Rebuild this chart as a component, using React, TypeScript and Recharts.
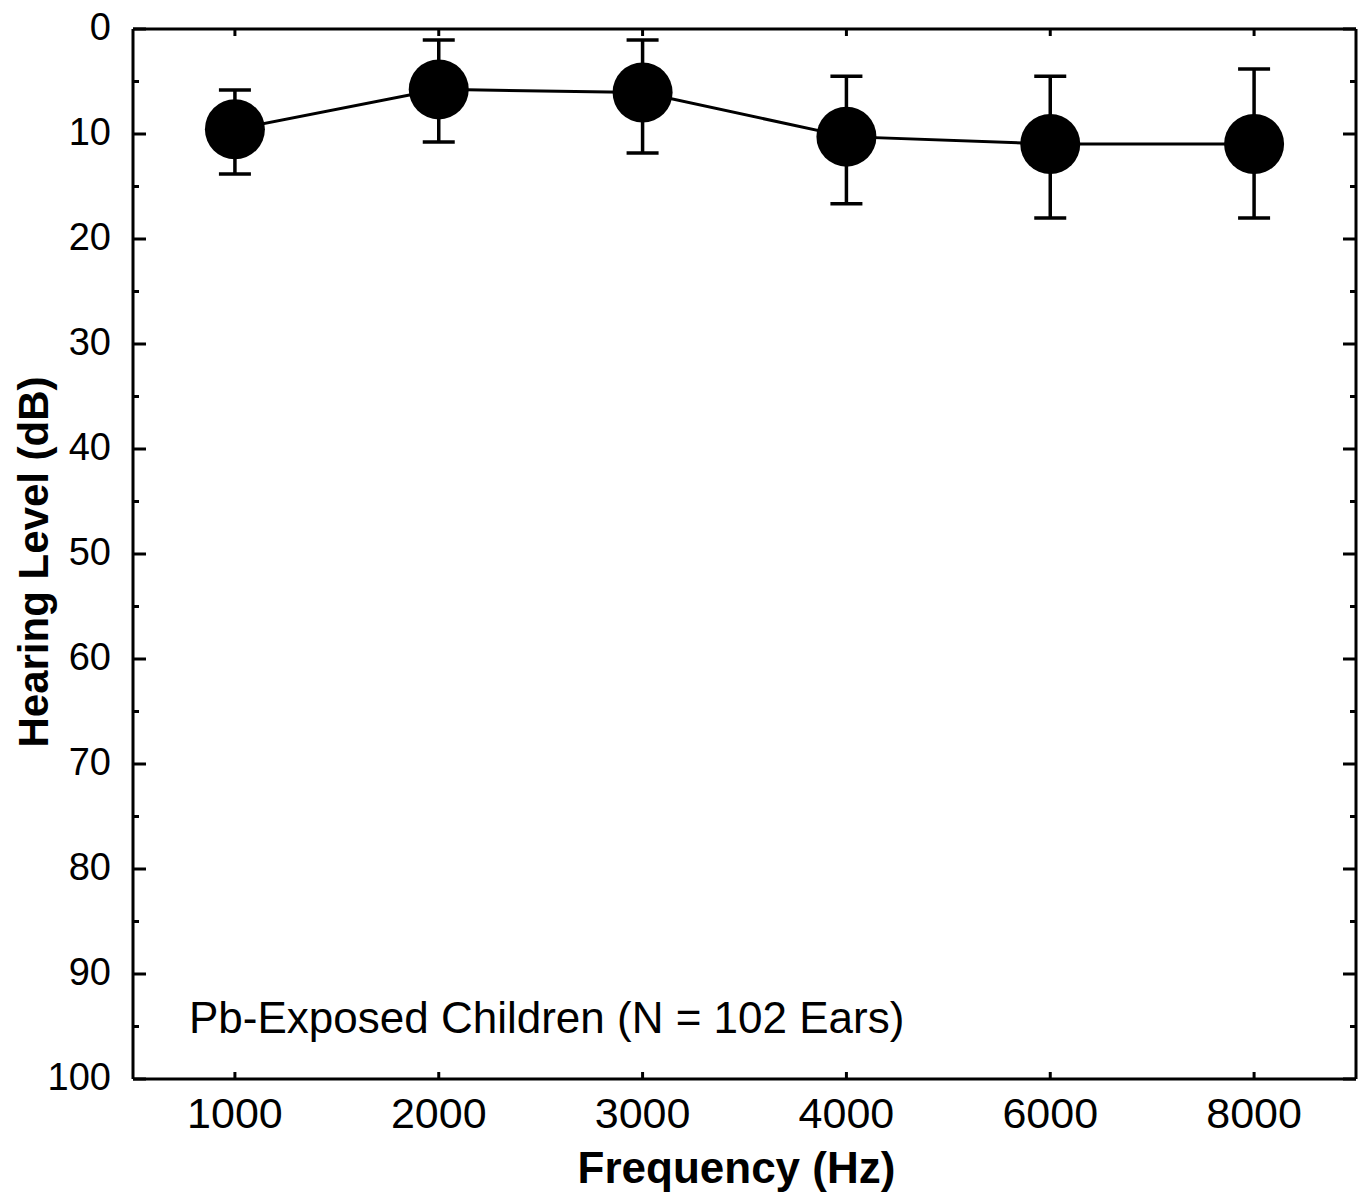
import { ErrorBar, Label, Line, LineChart, XAxis, YAxis } from 'recharts';

const frequencies = ['1000', '2000', '3000', '4000', '6000', '8000'];
const meanLevels = [9.55, 5.75, 6.05, 10.25, 10.95, 10.95];
// whisker ends, in dB (the axis runs downward, so the "top" whisker is the smaller value)
const whiskerTop = [5.8, 1.05, 1.05, 4.5, 4.5, 3.8];
const whiskerBottom = [13.8, 10.75, 11.8, 16.65, 18.0, 18.0];
const levelTicks = [0, 5, 10, 15, 20, 25, 30, 35, 40, 45, 50, 55, 60, 65, 70, 75, 80, 85, 90, 95, 100];

const data = frequencies.map((frequency, i) => ({
  frequency,
  level: meanLevels[i],
  err: [meanLevels[i] - whiskerTop[i], whiskerBottom[i] - meanLevels[i]],
}));

const FONT = '"Liberation Sans", Arial, Helvetica, sans-serif';
const Y_MARGIN = 22;
const X_MARGIN = 18;

function LeftTick({ x, y, payload }: any) {
  const axisX = x + Y_MARGIN;
  const major = payload.value % 10 === 0;
  return (
    <g>
      <line x1={axisX} x2={axisX + (major ? 13 : 6)} y1={y} y2={y} stroke="#000" strokeWidth={3} />
      {major && (
        <text x={x} y={y - 2} dy="0.355em" textAnchor="end" fontSize={38} fontFamily={FONT} fill="#000">
          {payload.value}
        </text>
      )}
    </g>
  );
}

function RightTick({ x, y, payload }: any) {
  const axisX = x - 2;
  const major = payload.value % 10 === 0;
  return <line x1={axisX} x2={axisX - (major ? 13 : 6)} y1={y} y2={y} stroke="#000" strokeWidth={3} />;
}

function BottomTick({ x, y, payload }: any) {
  const axisY = y - X_MARGIN;
  return (
    <g>
      <line x1={x} x2={x} y1={axisY} y2={axisY - 7} stroke="#000" strokeWidth={3} />
      <text x={x} y={y} dy="0.71em" textAnchor="middle" fontSize={43} fontFamily={FONT} fill="#000">
        {payload.value}
      </text>
    </g>
  );
}

function TopTick({ x, y }: any) {
  const axisY = y + 2;
  return <line x1={x} x2={x} y1={axisY} y2={axisY + 7} stroke="#000" strokeWidth={3} />;
}

function YTitle({ viewBox }: any) {
  const cx = viewBox.x + 48;
  const cy = viewBox.y + viewBox.height / 2 + 8;
  return (
    <text
      x={cx}
      y={cy}
      transform={`rotate(-90, ${cx}, ${cy})`}
      textAnchor="middle"
      fontSize={42}
      fontWeight="bold"
      fontFamily={FONT}
      fill="#000"
    >
      Hearing Level (dB)
    </text>
  );
}

function XTitle({ viewBox }: any) {
  const cx = viewBox.x + viewBox.width / 2 - 8;
  const baseline = viewBox.y + viewBox.height - 13;
  return (
    <text x={cx} y={baseline} textAnchor="middle" fontSize={44} fontWeight="bold" fontFamily={FONT} fill="#000">
      Frequency (Hz)
    </text>
  );
}

export default function App() {
  return (
    <div style={{ position: 'absolute', left: 0, top: 0, width: 1365, height: 1196, background: '#fff' }}>
      <LineChart width={1365} height={1196} data={data} margin={{ top: 0, right: 0, bottom: 0, left: 0 }}>
        <XAxis
          dataKey="frequency"
          scale="band"
          height={117}
          axisLine={{ stroke: '#000', strokeWidth: 3 }}
          tickLine={false}
          tickSize={0}
          tickMargin={X_MARGIN}
          tick={<BottomTick />}
          interval={0}
        >
          <Label content={<XTitle />} />
        </XAxis>
        <XAxis
          xAxisId="top"
          dataKey="frequency"
          orientation="top"
          scale="band"
          height={29}
          axisLine={{ stroke: '#000', strokeWidth: 3 }}
          tickLine={false}
          tickSize={0}
          tickMargin={2}
          tick={<TopTick />}
          interval={0}
        />
        <YAxis
          type="number"
          domain={[0, 100]}
          reversed
          ticks={levelTicks}
          interval={0}
          allowDataOverflow
          width={133}
          axisLine={{ stroke: '#000', strokeWidth: 3 }}
          tickLine={false}
          tickSize={0}
          tickMargin={Y_MARGIN}
          tick={<LeftTick />}
        >
          <Label content={<YTitle />} />
        </YAxis>
        <YAxis
          yAxisId="right"
          orientation="right"
          type="number"
          domain={[0, 100]}
          reversed
          ticks={levelTicks}
          interval={0}
          allowDataOverflow
          width={9}
          axisLine={{ stroke: '#000', strokeWidth: 3 }}
          tickLine={false}
          tickSize={0}
          tickMargin={2}
          tick={<RightTick />}
        />
        <Line
          dataKey="level"
          type="linear"
          stroke="#000"
          strokeWidth={3}
          dot={{ r: 30, fill: '#000', stroke: '#000', strokeWidth: 0 }}
          activeDot={false}
          isAnimationActive={false}
        >
          <ErrorBar dataKey="err" direction="y" width={16} stroke="#000" strokeWidth={3.5} />
        </Line>
      </LineChart>
      <svg width={1365} height={1196} style={{ position: 'absolute', left: 0, top: 0, pointerEvents: 'none' }}>
        <text x={189} y={1033} fontSize={44} fontFamily={FONT} fill="#000">
          Pb-Exposed Children (N = 102 Ears)
        </text>
      </svg>
    </div>
  );
}
